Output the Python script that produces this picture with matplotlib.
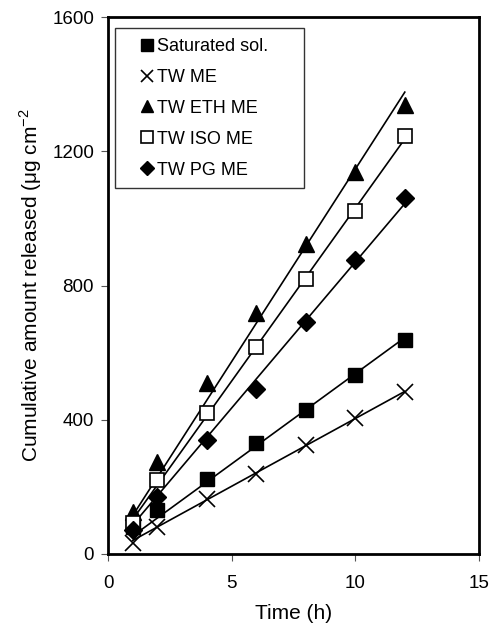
import numpy as np
import matplotlib
matplotlib.use("Agg")
import matplotlib.pyplot as plt
from matplotlib.patches import Rectangle

plt.rcParams['font.family'] = ['Liberation Sans', 'DejaVu Sans']

time_h = [1, 2, 4, 6, 8, 10, 12]
labels = ["Saturated sol.", "TW ME", "TW ETH ME", "TW ISO ME", "TW PG ME"]
saturated = [80, 132, 222, 330, 428, 532, 638]
tw_me = [33, 80, 164, 238, 325, 405, 484]
tw_eth_me = [124, 275, 510, 718, 925, 1138, 1338]
tw_iso_me = [92, 220, 420, 617, 818, 1022, 1245]
tw_pg_me = [72, 171, 340, 492, 692, 875, 1062]
x_ticks = [0, 5, 10, 15]
y_ticks = [0, 400, 800, 1200, 1600]

series = [saturated, tw_me, tw_eth_me, tw_iso_me, tw_pg_me]
styles = [
    dict(marker='s', ms=10, mfc='black', mec='black'),
    dict(marker='x', ms=11, mfc='black', mec='black', mew=1.2),
    dict(marker='^', ms=11, mfc='black', mec='black'),
    dict(marker='s', ms=10, mfc='white', mec='black', mew=1.2),
    dict(marker='D', ms=9, mfc='black', mec='black'),
]

fig = plt.figure(figsize=(4.91, 6.30), dpi=100)
ax = fig.add_axes([108/491, 1-554/630, 371/491, 537/630])

t = np.array(time_h, dtype=float)
handles = []
for vals, st, lab in zip(series, styles, labels):
    y = np.array(vals, dtype=float)
    slope = np.sum(t*y)/np.sum(t*t)
    tt = np.array([t.min(), t.max()])
    ax.plot(tt, slope*tt, color='black', lw=1.2, zorder=2)
    h, = ax.plot(t, y, ls='none', zorder=3, label=lab, **st)
    handles.append(h)

ax.set_xlim(0, 15)
ax.set_ylim(0, 1600)
ax.set_xticks(x_ticks)
ax.set_yticks(y_ticks)
ax.tick_params(direction='out', length=5, width=0.8, labelsize=13.5, color='#555555')
ax.tick_params(axis='x', pad=10)
ax.tick_params(axis='y', pad=5)
for s in ax.spines.values():
    s.set_linewidth(2.0)
ax.set_xlabel("Time (h)", fontsize=15, labelpad=9)
ax.set_ylabel("Cumulative amount released (μg cm$^{\\mathregular{-2}}$", fontsize=15, labelpad=6)

leg = ax.legend(handles=handles, loc='upper left', bbox_to_anchor=(0.075, 0.971),
                frameon=False, fontsize=13, handlelength=0.6, handletextpad=0.25,
                labelspacing=0.77, borderpad=0.3, borderaxespad=0, markerscale=0.8)
ax.add_patch(Rectangle((0.0189, 0.6816), 0.509, 0.9795-0.6816, transform=ax.transAxes,
                       fill=False, ec='#333333', lw=1.0, zorder=5))

fig.savefig("out.png", dpi=100)
